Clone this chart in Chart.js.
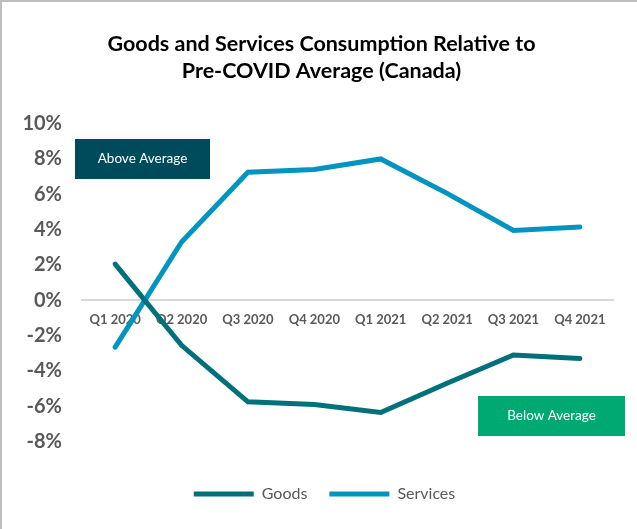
<!DOCTYPE html>
<html lang="en">
<head>
    <meta charset="UTF-8">
    <title>Goods and Services Consumption</title>
    <script src="https://cdn.jsdelivr.net/npm/chart.js"></script>
    <style>
        body {
            margin: 0;
            background: #ffffff;
        }

        #chart-container {
            position: relative;
            width: 637px;
            height: 529px;
            box-sizing: border-box;
            border-left: 2px solid #bfbfbf;
            border-top: 2px solid #bfbfbf;
        }
    </style>
</head>
<body>
    <div id="chart-container">
        <canvas id="consumptionChart"></canvas>
    </div>

    <script>
        const quarters = ['Q1 2020', 'Q2 2020', 'Q3 2020', 'Q4 2020', 'Q1 2021', 'Q2 2021', 'Q3 2021', 'Q4 2021'];
        const goods = [2.05, -2.55, -5.75, -5.9, -6.35, -4.7, -3.1, -3.3];
        const services = [-2.65, 3.3, 7.25, 7.4, 8.0, 6.05, 3.95, 4.15];
        const yTicks = [10, 8, 6, 4, 2, 0, -2, -4, -6, -8];

        const FONT = 'Lato, "Open Sans", sans-serif';

        // Labelled boxes drawn on top of the chart (canvas pixels)
        const boxes = [
            { text: 'Above Average', x: 73, y: 137, w: 135, h: 40, color: '#004b5b' },
            { text: 'Below Average', x: 476, y: 394, w: 147, h: 40, color: '#00a872' }
        ];

        const boxPlugin = {
            id: 'boxes',
            afterLayout(chart) {
                // nudge title and legend a little right, as in the original
                chart.titleBlock.left += 14;
                chart.legend.left += 20;
            },
            afterDatasetsDraw(chart) {
                const c = chart.ctx;
                c.save();
                boxes.forEach(b => {
                    c.fillStyle = b.color;
                    c.fillRect(b.x, b.y, b.w, b.h);
                    c.fillStyle = '#ffffff';
                    c.font = '13.5px ' + FONT;
                    c.textAlign = 'center';
                    c.textBaseline = 'middle';
                    c.fillText(b.text, b.x + b.w / 2, b.y + b.h / 2);
                });
                c.restore();
            }
        };

        const ctx = document.getElementById('consumptionChart').getContext('2d');
        new Chart(ctx, {
            type: 'line',
            data: {
                labels: quarters,
                datasets: [{
                    label: 'Goods',
                    data: goods,
                    borderColor: '#00707b',
                    backgroundColor: '#00707b',
                    borderWidth: 5,
                    borderCapStyle: 'round',
                    pointRadius: 0,
                    tension: 0
                }, {
                    label: 'Services',
                    data: services,
                    borderColor: '#0095c0',
                    backgroundColor: '#0095c0',
                    borderWidth: 5,
                    borderCapStyle: 'round',
                    pointRadius: 0,
                    tension: 0
                }]
            },
            options: {
                responsive: true,
                maintainAspectRatio: false,
                animation: false,
                layout: {
                    padding: { left: 14, right: 24, top: 0, bottom: 17 }
                },
                plugins: {
                    title: {
                        display: true,
                        text: ['Goods and Services Consumption Relative to', 'Pre-COVID Average (Canada)'],
                        color: '#000000',
                        font: { family: FONT, size: 21.5, weight: 'bold', lineHeight: 1.27 },
                        padding: { top: 28, bottom: 39 }
                    },
                    legend: {
                        position: 'bottom',
                        title: {
                            display: true,
                            text: ' ',
                            font: { size: 12, lineHeight: 1.2 },
                            padding: { top: 0, bottom: 8 }
                        },
                        labels: {
                            usePointStyle: true,
                            pointStyle: 'line',
                            pointStyleWidth: 60,
                            color: '#595959',
                            font: { family: FONT, size: 16 },
                            padding: 22
                        }
                    },
                    tooltip: { enabled: false }
                },
                scales: {
                    x: {
                        position: { y: 0 },
                        offset: true,
                        grid: { display: false, drawTicks: false },
                        border: { display: true, color: '#d9d9d9', width: 2 },
                        ticks: {
                            color: '#595959',
                            font: { family: FONT, size: 13, weight: 'bold' },
                            maxRotation: 0,
                            autoSkip: false,
                            padding: 12
                        }
                    },
                    y: {
                        min: -8,
                        max: 10,
                        afterBuildTicks: axis => {
                            axis.ticks = yTicks.map(v => ({ value: v }));
                        },
                        afterFit: axis => {
                            axis.width = 66;
                        },
                        grid: { display: false, drawTicks: false },
                        border: { display: false },
                        ticks: {
                            color: '#595959',
                            font: { family: FONT, size: 20, weight: 'bold' },
                            padding: 20,
                            callback: v => v + '%'
                        }
                    }
                }
            },
            plugins: [boxPlugin]
        });
    </script>
</body>
</html>
